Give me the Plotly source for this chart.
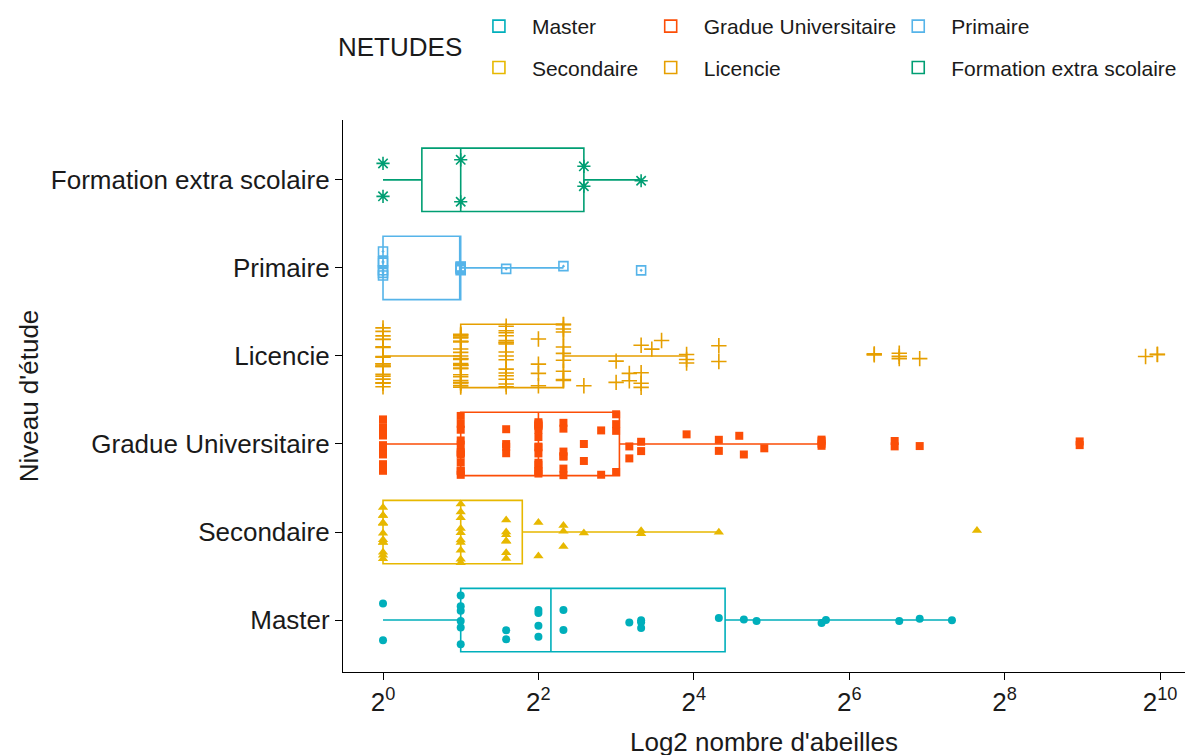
import numpy as np
import plotly.graph_objects as go

# ---- data ----
categories = ["Master", "Secondaire", "Gradue Universitaire", "Licencie",
              "Primaire", "Formation extra scolaire"]
colors = ["#00AFBB", "#E7B800", "#FC4E07", "#E69F00", "#56B4E9", "#009E73"]
symbols = ["circle", "triangle-up", "square", "cross-thin-open",
           "square-open-dot", "asterisk-open"]
marker_sizes = [8, 9, 8, 11, 9, 11]

master = [1, 1, 2, 2, 2, 2, 2, 2, 3, 3, 4, 4, 4, 4, 5, 5, 9, 10, 10, 10,
          20, 25, 28, 50, 52, 100, 120, 160]
secondaire = [1, 1, 1, 1, 1, 1, 1, 1, 1, 1, 1, 1,
              2, 2, 2, 2, 2, 2, 2, 2, 2, 2,
              3, 3, 3, 3, 3, 3, 3,
              4, 4, 5, 5, 5, 6, 10, 10, 20, 200]
gradue = [1, 1, 1, 1, 1, 1, 1, 1, 1, 1, 1, 1,
          2, 2, 2, 2, 2, 2, 2, 2, 2, 2, 2, 2,
          3, 3, 3, 3,
          4, 4, 4, 4, 4, 4, 4, 4, 4, 4, 4, 4, 4, 4,
          5, 5, 5, 5, 5, 5, 5,
          6, 6, 7, 7, 8, 8, 8, 8, 9, 9, 10, 10, 15, 20, 20, 24, 25, 30,
          50, 50, 50, 50, 96, 96, 120, 500, 500]
licencie = [1, 1, 1, 1, 1, 1, 1, 1, 1, 1, 1, 1, 1, 1, 1, 1, 1, 1, 1, 1,
            2, 2, 2, 2, 2, 2, 2, 2, 2, 2, 2, 2, 2, 2, 2, 2, 2, 2, 2, 2,
            2, 2, 2, 2, 2, 2, 2, 2,
            3, 3, 3, 3, 3, 3, 3, 3, 3, 3, 3, 3, 3, 3, 3, 3, 3,
            4, 4, 4, 4,
            5, 5, 5, 5, 5, 5, 5, 5, 5, 5,
            6, 8, 8, 9, 9, 10, 10, 10, 10, 11, 12, 15, 15, 15, 20, 20,
            80, 80, 100, 100, 100, 120, 900, 1000, 1000]
primaire = [1, 1, 1, 1, 1, 1, 2, 2, 2, 2, 2, 3, 5, 10]
formation = [1, 1, 2, 2, 6, 6, 10]

series = [master, secondaire, gradue, licencie, primaire, formation]
legend_ids = ["legend", "legend", "legend2", "legend2", "legend3", "legend3"]

tick_vals = [1, 4, 16, 64, 256, 1024]
tick_text = ["2<sup>0</sup>", "2<sup>2</sup>", "2<sup>4</sup>",
             "2<sup>6</sup>", "2<sup>8</sup>", "2<sup>10</sup>"]


def box_stats(vals):
    lv = np.log2(np.asarray(vals, dtype=float))
    q1, med, q3 = np.percentile(lv, [25, 50, 75])
    iqr = q3 - q1
    lo = lv[lv >= q1 - 1.5 * iqr].min()
    hi = lv[lv <= q3 + 1.5 * iqr].max()
    return [2 ** v for v in (q1, med, q3, lo, hi)]


fig = go.Figure()
for cat, vals, col, sym, msz, lg in zip(categories, series, colors, symbols,
                                        marker_sizes, legend_ids):
    q1, med, q3, lo, hi = box_stats(vals)
    fig.add_trace(go.Box(
        y=[cat], q1=[q1], median=[med], q3=[q3],
        lowerfence=[lo], upperfence=[hi],
        orientation="h", boxpoints=False, name=cat,
        fillcolor="rgba(255,255,255,0)",
        line=dict(color=col, width=1.6), width=0.72, whiskerwidth=0,
        legend=lg, legendgroup=cat, hoverinfo="skip",
    ))
    is_open = "open" in sym
    fig.add_trace(go.Box(
        x=vals, y=[cat] * len(vals), orientation="h",
        boxpoints="all", jitter=1.0, pointpos=0, name=cat,
        fillcolor="rgba(0,0,0,0)",
        line=dict(color="rgba(0,0,0,0)", width=0), width=0.72,
        whiskerwidth=0,
        marker=dict(symbol=sym, color=col, size=msz,
                    line=dict(color=col, width=1.6 if is_open else 0)),
        showlegend=False, legendgroup=cat,
    ))

leg_common = dict(xanchor="left", yanchor="top", orientation="v",
                  font=dict(size=21, color="#1a1a1a"), tracegroupgap=11,
                  itemwidth=56, bgcolor="rgba(0,0,0,0)")

fig.update_layout(
    width=1200, height=755,
    # page body adds an 8px offset; margins compensate for it
    margin=dict(l=335, r=23, t=112, b=91, autoexpand=False),
    paper_bgcolor="white", plot_bgcolor="white",
    boxmode="overlay",
    font=dict(family="Liberation Sans, Arial, sans-serif", color="#1a1a1a"),
    xaxis=dict(
        type="log", range=[-0.155, 3.107],
        tickvals=tick_vals, ticktext=tick_text,
        showline=True, linecolor="black", linewidth=1.2,
        ticks="outside", ticklen=7, tickcolor="black",
        showgrid=False, zeroline=False, automargin=False,
        tickfont=dict(size=26, color="#1a1a1a"),
        title=dict(text="Log2 nombre d'abeilles", font=dict(size=26), standoff=16),
    ),
    yaxis=dict(
        type="category", categoryorder="array", categoryarray=categories,
        range=[-0.59, 5.68],
        showline=True, linecolor="black", linewidth=1.2,
        ticks="outside", ticklen=7, tickcolor="black",
        showgrid=False, zeroline=False, automargin=False,
        tickfont=dict(size=26, color="#1a1a1a"),
        title=dict(text="Niveau d'étude", font=dict(size=26), standoff=4),
    ),
    legend=dict(x=0.146, y=1.2065, **leg_common),
    legend2=dict(x=0.350, y=1.2065, **leg_common),
    legend3=dict(x=0.644, y=1.2065, **leg_common),
    annotations=[dict(text="NETUDES", x=0.068, y=1.132, xref="paper",
                      yref="paper", xanchor="center", yanchor="middle",
                      showarrow=False,
                      font=dict(size=26, color="#1a1a1a"))],
)

fig.write_html("out.html")
